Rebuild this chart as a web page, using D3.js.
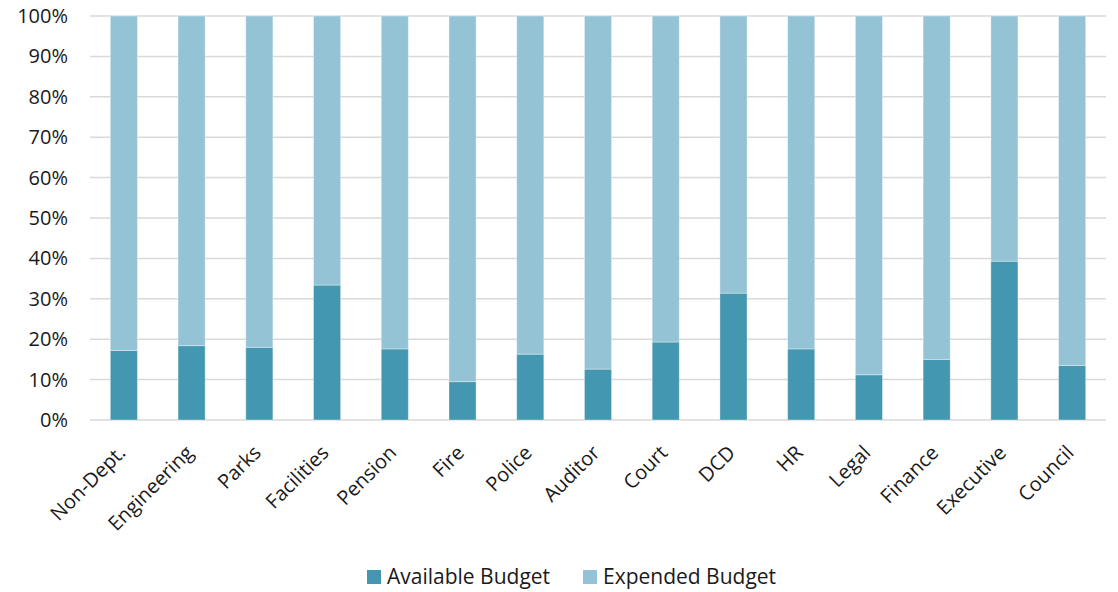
<!DOCTYPE html>
<html>
<head>
<meta charset="utf-8">
<script src="https://cdn.jsdelivr.net/npm/d3@7"></script>
<style>
  body { margin: 0; background: #fff; }
  svg { display: block; font-family: "Open Sans", sans-serif; }
</style>
</head>
<body>
<div id="chart"></div>
<script>
// departments, left to right
const categories = ["Non-Dept.", "Engineering", "Parks", "Facilities", "Pension", "Fire", "Police",
                    "Auditor", "Court", "DCD", "HR", "Legal", "Finance", "Executive", "Council"];
// share of budget still available (%)
const available = [17.2, 18.4, 18.0, 33.4, 17.6, 9.5, 16.3, 12.6, 19.3, 31.4, 17.6, 11.2, 15.0, 39.3, 13.5];
// share of budget already spent (%)
const expended = available.map(v => 100 - v);
const seriesNames = ["Available Budget", "Expended Budget"];
const yTicks = [0, 10, 20, 30, 40, 50, 60, 70, 80, 90, 100];

const COLORS = { "Available Budget": "#4397b0", "Expended Budget": "#94c3d5" };
const FONT_SIZE = "20px";

const W = 1118, H = 592;
const margin = { top: 16, right: 12, bottom: 172, left: 90 };
const width = W - margin.left - margin.right,
      height = H - margin.top - margin.bottom;

const rows = categories.map((c, i) => ({
    cat: c,
    "Available Budget": available[i],
    "Expended Budget": expended[i]
}));
const stacked = d3.stack().keys(seriesNames)(rows);

const x = d3.scaleBand().domain(categories).range([0, width]).paddingInner(0.6).paddingOuter(0.3);
const y = d3.scaleLinear().domain([0, 100]).range([height, 0]);

const svg = d3.select("#chart").append("svg")
    .attr("width", W)
    .attr("height", H);

const g = svg.append("g")
    .attr("transform", `translate(${margin.left},${margin.top})`);

// gridlines
g.append("g")
    .selectAll("line")
    .data(yTicks)
    .enter()
    .append("line")
    .attr("x1", 0)
    .attr("x2", width)
    .attr("y1", d => y(d))
    .attr("y2", d => y(d))
    .style("stroke", "#d9d9d9")
    .style("stroke-width", 1.5);

// y-axis labels
const yAxis = d3.axisLeft(y).tickValues(yTicks).tickFormat(d => d + "%").tickSize(0).tickPadding(22);
g.append("g")
    .call(yAxis)
    .call(s => s.select(".domain").remove())
    .selectAll("text")
    .style("font-family", "'Open Sans', sans-serif")
    .style("font-size", FONT_SIZE)
    .style("fill", "#1a1a1a");

// bars
g.selectAll(".series")
    .data(stacked)
    .enter()
    .append("g")
    .attr("class", "series")
    .style("fill", d => COLORS[d.key])
    .selectAll("rect")
    .data(d => d)
    .enter()
    .append("rect")
    .attr("x", d => x(d.data.cat))
    .attr("width", x.bandwidth())
    .attr("y", d => y(d[1]))
    .attr("height", d => y(d[0]) - y(d[1]))
    .style("stroke", "#fff")
    .style("stroke-opacity", 0.35)
    .style("stroke-width", 1);

// x-axis labels
const xAxis = d3.axisBottom(x).tickSize(0).tickPadding(0);
g.append("g")
    .attr("transform", `translate(0,${height})`)
    .call(xAxis)
    .call(s => s.select(".domain").remove())
    .selectAll("text")
    .attr("text-anchor", "end")
    .attr("dy", "0.35em")
    .attr("transform", "translate(-2,29) rotate(-45)")
    .style("font-family", "'Open Sans', sans-serif")
    .style("font-size", FONT_SIZE)
    .style("fill", "#1a1a1a");

// legend
const legendItems = [
    { name: seriesNames[0], x: 367 },
    { name: seriesNames[1], x: 583 }
];
const legend = svg.append("g").attr("transform", "translate(0,577)");
legend.selectAll("rect")
    .data(legendItems)
    .enter()
    .append("rect")
    .attr("x", d => d.x)
    .attr("y", -7)
    .attr("width", 14)
    .attr("height", 14)
    .style("fill", d => COLORS[d.name]);
legend.selectAll("text")
    .data(legendItems)
    .enter()
    .append("text")
    .attr("x", d => d.x + 20)
    .attr("y", 0)
    .attr("dy", "0.35em")
    .style("font-size", "21px")
    .style("fill", "#1a1a1a")
    .text(d => d.name);
</script>
</body>
</html>
